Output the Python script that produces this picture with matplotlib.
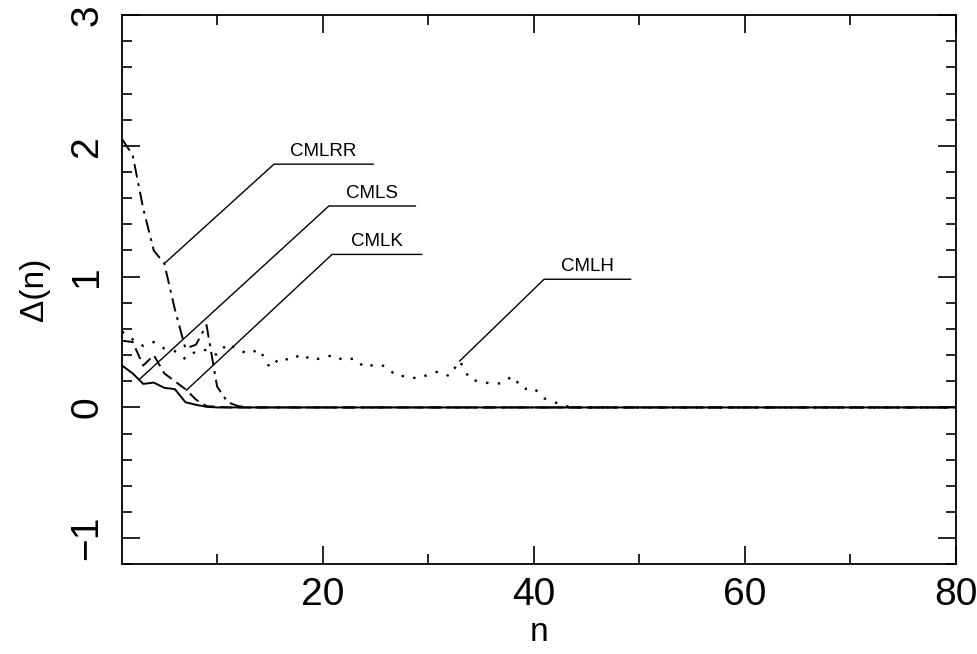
import numpy as np
import matplotlib
matplotlib.use("Agg")
import matplotlib.pyplot as plt
from matplotlib import font_manager as fm
from matplotlib.ticker import MultipleLocator

# ---- data ----
n = np.arange(1, 81)

cmlrr_head = [2.05, 1.93, 1.52, 1.20, 1.10, 0.75, 0.45, 0.48, 0.63, 0.16, 0.04, 0.01]
cmls_head  = [0.32, 0.26, 0.18, 0.19, 0.15, 0.14, 0.04, 0.02, 0.005]
cmlk_head  = [0.51, 0.50, 0.32, 0.40, 0.26, 0.20, 0.14, 0.06, 0.01, 0.005]
cmlh_head  = [0.58, 0.52, 0.47, 0.50, 0.45, 0.43, 0.37, 0.43, 0.44, 0.40,
              0.49, 0.44, 0.41, 0.445, 0.305, 0.38, 0.36, 0.41, 0.36, 0.38,
              0.40, 0.36, 0.375, 0.305, 0.33, 0.315, 0.24, 0.24, 0.22, 0.25,
              0.275, 0.24, 0.355, 0.21, 0.20, 0.18, 0.185, 0.24, 0.14, 0.15,
              0.07, 0.04, 0.01]

labels = ["CMLRR", "CMLS", "CMLK", "CMLH"]
# where each leader touches its curve (n)
leader_n = [5, 2.6, 7.1, 33]
# underline: left x, right x, y  (data units)
underline = [(15.4, 24.8, 1.86), (20.6, 28.8, 1.54), (20.9, 29.4, 1.17), (41.0, 49.2, 0.98)]


def pad_zero(head):
    out = np.zeros(len(n))
    out[:len(head)] = head
    return out


cmlrr = pad_zero(cmlrr_head)
cmls = pad_zero(cmls_head)
cmlk = pad_zero(cmlk_head)
cmlh = pad_zero(cmlh_head)

# ---- fonts ----
names = {f.name for f in fm.fontManager.ttflist}
tick_font = "Liberation Sans Narrow" if "Liberation Sans Narrow" in names else "Liberation Sans"
plt.rcParams["font.family"] = ["Liberation Sans", "DejaVu Sans"]

fig = plt.figure(figsize=(9.77, 6.54), dpi=100)
ax = fig.add_axes([0.125, 0.137, 0.853, 0.84])

lw = 1.4
ax.plot(n, cmls, color="black", lw=lw, ls="-")
ax.plot(n, cmlk, color="black", lw=lw, ls=(0, (6, 3)))
ax.plot(n, cmlrr, color="black", lw=lw, ls=(0, (7, 3, 1.5, 3)))
ax.plot(n, cmlh, color="black", lw=1.7, ls=(0, (1, 4)))

series = [cmlrr, cmls, cmlk, cmlh]
for lab, xn, s, (x0, x1, yu) in zip(labels, leader_n, series, underline):
    yc = np.interp(xn, n, s)
    ax.plot([xn, x0, x1], [yc, yu, yu], color="black", lw=1.0)
    ax.text((x0 + x1) / 2, yu + 0.03, lab, ha="center", va="bottom", fontsize=13.5)

ax.set_xlim(1, 80)
ax.set_ylim(-1.2, 3)
ax.xaxis.set_major_locator(MultipleLocator(20))
ax.xaxis.set_minor_locator(MultipleLocator(10))
ax.yaxis.set_major_locator(MultipleLocator(1))
ax.yaxis.set_minor_locator(MultipleLocator(0.2))
ax.tick_params(which="both", direction="in", top=True, right=True, width=1.2)
ax.tick_params(which="major", length=13, pad=12)
ax.tick_params(axis="x", which="major", pad=9)
ax.tick_params(which="minor", length=7)
for sp in ax.spines.values():
    sp.set_linewidth(1.3)

ax.set_xticks([20, 40, 60, 80])
ax.set_yticks([-1, 0, 1, 2, 3])
ax.set_yticklabels(["\u22121", "0", "1", "2", "3"])
for t in ax.get_xticklabels():
    t.set_fontfamily(tick_font)
    t.set_fontsize(28)
for t in ax.get_yticklabels():
    t.set_fontfamily(tick_font)
    t.set_fontsize(28)
    t.set_rotation(90)
    t.set_va("center")

ax.set_xlabel("n", fontsize=24, labelpad=3)
ax.set_ylabel("\u0394(n)", fontsize=24, labelpad=14)

fig.savefig("out.png", dpi=100)
